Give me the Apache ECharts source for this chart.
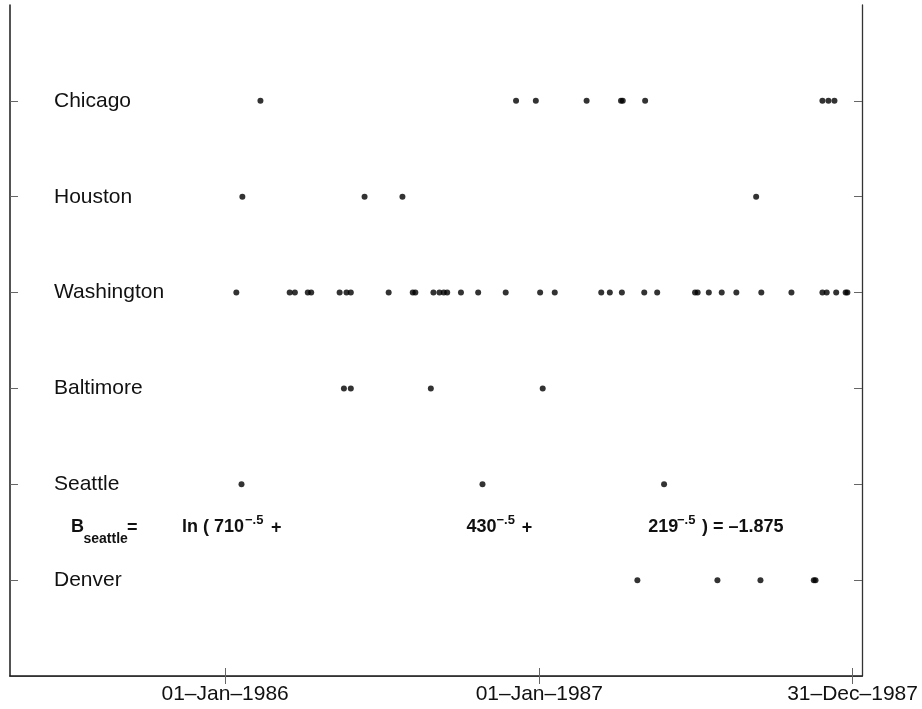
<!DOCTYPE html>
<html><head><meta charset="utf-8">
<script src="https://cdn.jsdelivr.net/npm/echarts@6/dist/echarts.min.js"></script>
<style>html,body{margin:0;padding:0;background:#fff}#c{width:922px;height:709px}</style>
</head><body><div id="c"></div>
<script>
// y position 1..6 (bottom to top)
const cities = ['Denver', 'Seattle', 'Baltimore', 'Washington', 'Houston', 'Chicago'];

const chicago = ['1986-02-11', '1986-12-05', '1986-12-28', '1987-02-25', '1987-04-06', '1987-04-08',
  '1987-05-04', '1987-11-26', '1987-12-03', '1987-12-10'];
const houston = ['1986-01-21', '1986-06-12', '1986-07-26', '1987-09-10'];
const washington = ['1986-01-14', '1986-03-17', '1986-03-23', '1986-04-07', '1986-04-11', '1986-05-14',
  '1986-05-22', '1986-05-27', '1986-07-10', '1986-08-07', '1986-08-10', '1986-08-31', '1986-09-07',
  '1986-09-12', '1986-09-16', '1986-10-02', '1986-10-22', '1986-11-23', '1987-01-02', '1987-01-19',
  '1987-03-14', '1987-03-24', '1987-04-07', '1987-05-03', '1987-05-18', '1987-07-01', '1987-07-04',
  '1987-07-17', '1987-08-01', '1987-08-18', '1987-09-16', '1987-10-21', '1987-11-26', '1987-12-01',
  '1987-12-12', '1987-12-23', '1987-12-25'];
const baltimore = ['1986-05-19', '1986-05-27', '1986-08-28', '1987-01-05'];
const seattle = ['1986-01-20', '1986-10-27', '1987-05-26'];
const denver = ['1987-04-25', '1987-07-27', '1987-09-15', '1987-11-16', '1987-11-18'];

const xTickDates = ['1986-01-01', '1987-01-01', '1987-12-31'];
const xTickLabels = ['01–Jan–1986', '01–Jan–1987', '31–Dec–1987'];
const xRange = ['1985-04-26', '1988-01-11'];

const seattleDaysToEnd = ['710', '430', '219'];
const seattleB = '–1.875';

const byCity = { Denver: denver, Seattle: seattle, Baltimore: baltimore, Washington: washington, Houston: houston, Chicago: chicago };
const ts = d => Date.parse(d + 'T00:00:00Z');
const tickTs = xTickDates.map(ts);
const yTicks = cities.map((c, i) => i + 1);

const ink = '#111';
const series = cities.map((c, i) => ({
  type: 'scatter', name: c, symbol: 'circle', symbolSize: 6,
  itemStyle: { color: '#000' }, silent: true,
  data: byCity[c].map(d => [ts(d), i + 1])
}));

const baseAxis = {
  type: 'value', min: ts(xRange[0]), max: ts(xRange[1]), splitLine: { show: false },
  axisLine: { show: true, lineStyle: { color: '#1a1a1a', width: 1.5 } },
  axisTick: { show: true, inside: true, length: 8, customValues: tickTs, lineStyle: { color: '#666', width: 1 } }
};

const chart = echarts.init(document.getElementById('c'), null, { renderer: 'canvas' });

function txt(x, y, text, size, extra) {
  return Object.assign({ type: 'text', x: x, y: y, silent: true,
    style: { text: text, fontSize: size, fontWeight: 'bold', fontFamily: 'Liberation Sans, Arial, sans-serif',
      fill: ink, align: 'left', verticalAlign: 'middle' } }, extra || {});
}

chart.setOption({
  animation: false,
  backgroundColor: '#fff',
  grid: { left: 10, right: 60, top: 5, bottom: 33, outerBoundsMode: 'none', containLabel: false },
  xAxis: [
    Object.assign({}, baseAxis, { position: 'bottom',
      axisLabel: { show: true, customValues: tickTs, margin: 8, fontSize: 21, color: ink,
        fontFamily: 'Liberation Sans, Arial, sans-serif',
        formatter: v => { const k = tickTs.indexOf(v); return k >= 0 ? xTickLabels[k] : ''; } } }),
    Object.assign({}, baseAxis, { position: 'top', axisLabel: { show: false },
      axisLine: { show: true, lineStyle: { color: '#333', width: 1 } } })
  ],
  yAxis: [
    { type: 'value', min: 0, max: 7, position: 'left', splitLine: { show: false },
      axisLine: { show: true, lineStyle: { color: '#1a1a1a', width: 1.5 } },
      axisTick: { show: true, inside: true, length: 8, customValues: yTicks, lineStyle: { color: '#666' } },
      axisLabel: { show: true, inside: true, margin: 44, customValues: yTicks, fontSize: 21, color: ink,
        fontFamily: 'Liberation Sans, Arial, sans-serif', align: 'left', padding: [3, 0, 0, 0],
        formatter: v => cities[v - 1] || '' } },
    { type: 'value', min: 0, max: 7, position: 'right', splitLine: { show: false },
      axisLine: { show: true, lineStyle: { color: '#333', width: 1.3 } },
      axisTick: { show: true, inside: true, length: 8, customValues: yTicks, lineStyle: { color: '#666' } },
      axisLabel: { show: false } }
  ],
  series: series,
  graphic: [
    txt(71, 527, 'B', 18),
    txt(83.5, 539, 'seattle', 14),
    txt(127, 528, '=', 18),
    txt(182, 527, 'ln ( ' + seattleDaysToEnd[0], 18),
    txt(245, 520, '−.5', 13),
    txt(271, 528, '+', 18),
    txt(466.5, 527, seattleDaysToEnd[1], 18),
    txt(496.5, 520, '−.5', 13),
    txt(521.7, 528, '+', 18),
    txt(648.3, 527, seattleDaysToEnd[2], 18),
    txt(677, 520, '−.5', 13),
    txt(702, 527, ') = ' + seattleB, 18)
  ]
});
</script></body></html>
